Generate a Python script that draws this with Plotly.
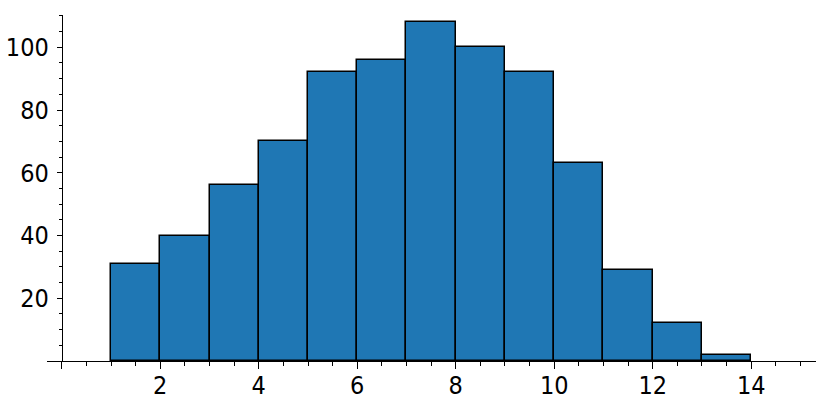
import plotly.graph_objects as go

# Histogram data (bin left edges, bin counts)
bin_left = [1, 2, 3, 4, 5, 6, 7, 8, 9, 10, 11, 12, 13]
counts = [31, 40, 56, 70, 92, 96, 108, 100, 92, 63, 29, 12, 2]
x_ticks = [0, 2, 4, 6, 8, 10, 12, 14]
x_labels = ["", "2", "4", "6", "8", "10", "12", "14"]
y_ticks = [20, 40, 60, 80, 100]

font_family = "DejaVu Sans Condensed, Liberation Sans Narrow, sans-serif"

fig = go.Figure()
fig.add_trace(go.Bar(
    x=[b + 0.5 for b in bin_left],
    y=counts,
    width=1,
    marker=dict(color="#1f77b4", line=dict(color="black", width=1.5)),
    hoverinfo="x+y",
))

x_min, x_max = -0.2995, 15.315
y_max = 110.3

fig.update_layout(
    width=831,
    height=408,
    margin=dict(l=47, r=15, t=15, b=47),
    plot_bgcolor="white",
    paper_bgcolor="white",
    showlegend=False,
    bargap=0,
    font=dict(family=font_family, size=25, color="black"),
    xaxis=dict(
        range=[x_min, x_max],
        automargin=False,
        showgrid=False,
        zeroline=False,
        showline=True,
        linecolor="black",
        linewidth=1,
        tickvals=x_ticks,
        ticktext=x_labels,
        ticks="outside",
        ticklen=7,
        tickwidth=1,
        tickcolor="black",
        ticklabelstandoff=-5,
        minor=dict(dtick=0.5, tick0=0, ticks="outside", ticklen=4, tickcolor="black"),
    ),
    yaxis=dict(
        range=[0, y_max],
        automargin=False,
        showgrid=False,
        zeroline=False,
        showline=True,
        linecolor="black",
        linewidth=1,
        anchor="free",
        position=(0 - x_min) / (x_max - x_min),
        tickvals=y_ticks,
        ticks="outside",
        ticklen=5,
        tickwidth=1,
        tickcolor="black",
        ticklabelstandoff=3,
        minor=dict(dtick=5, tick0=0, ticks="outside", ticklen=3, tickcolor="black"),
    ),
)

# Drop the default page margin so the figure sits at the window's corner
fig.write_html(
    "out.html",
    config={"displayModeBar": False},
    post_script="document.body.style.margin='0';",
)
